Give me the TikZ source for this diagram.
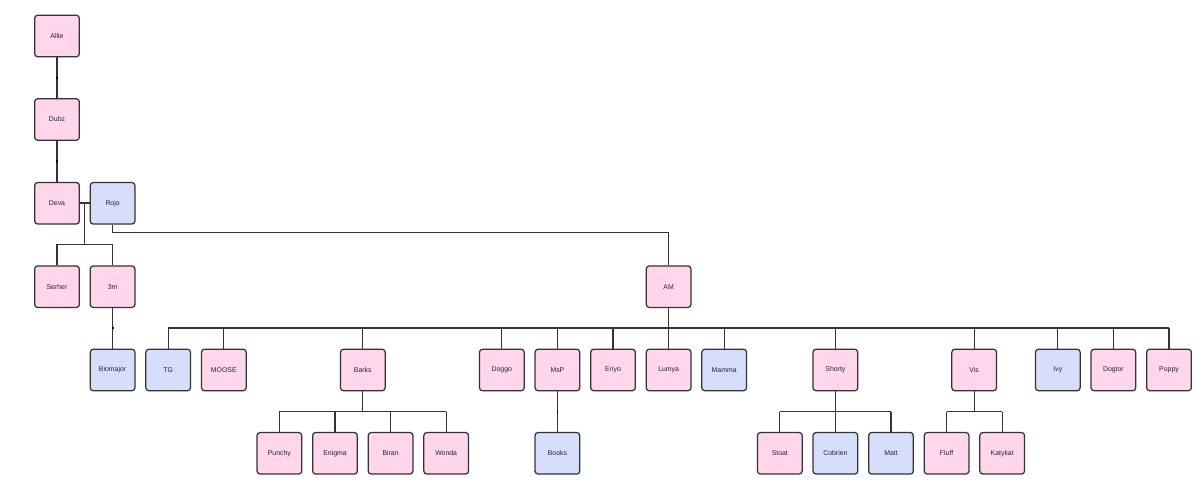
\documentclass[tikz,border=0pt]{standalone}
\usepackage{fontspec}
\setmainfont{Liberation Sans}
\usetikzlibrary{calc}
\definecolor{pinkf}{HTML}{FFD6EC}
\definecolor{bluef}{HTML}{D7DEFC}
\definecolor{edgec}{HTML}{333333}
\definecolor{txtc}{HTML}{22223A}
\tikzset{
  person/.style={draw=edgec, line width=1.25pt, rounded corners=3pt, minimum width=44.7pt, minimum height=41.5pt, inner sep=0pt, font=\fontsize{6.9}{8}\selectfont, text=txtc},
  pk/.style={person, fill=pinkf},
  bl/.style={person, fill=bluef},
  conn/.style={draw=edgec, line width=1.2pt},
  tick/.style={fill=black, minimum size=1.8pt, inner sep=0pt},
}
\begin{document}
\begin{tikzpicture}[x=1pt,y=-1pt]
\useasboundingbox (0,0) rectangle (1200,502);
% rows
\def\ra{36}\def\rb{119.5}\def\rc{203.3}\def\rd{286.7}\def\re{370}\def\rf{453.3}
\node[pk] (Allie) at (57,\ra) {Allie};
\node[pk] (Dubz) at (57,\rb) {Dubz};
\node[pk] (Deva) at (57,\rc) {Deva};
\node[bl] (Rojo) at (112.6,\rc) {Rojo};
\node[pk] (Serher) at (57,\rd) {Serher};
\node[pk] (3m) at (112.6,\rd) {3m};
\node[pk] (AM) at (668.6,\rd) {AM};
\node[bl] (Biomajor) at (112.6,\re) {Biomajor};
\node[bl] (TG) at (168.2,\re) {TG};
\node[pk] (MOOSE) at (223.8,\re) {MOOSE};
\node[pk] (Barks) at (362.8,\re) {Barks};
\node[pk] (Doggo) at (501.8,\re) {Doggo};
\node[pk] (MsP) at (557.4,\re) {MsP};
\node[pk] (Eriyo) at (613,\re) {Eriyo};
\node[pk] (Lumya) at (668.6,\re) {Lumya};
\node[bl] (Mamma) at (724.2,\re) {Mamma};
\node[pk] (Shorty) at (835.4,\re) {Shorty};
\node[pk] (Vis) at (974.2,\re) {Vis};
\node[bl] (Ivy) at (1057.8,\re) {Ivy};
\node[pk] (Dogtor) at (1113.4,\re) {Dogtor};
\node[pk] (Poppy) at (1169,\re) {Poppy};
\node[pk] (Punchy) at (279.4,\rf) {Punchy};
\node[pk] (Enigma) at (335,\rf) {Enigma};
\node[pk] (Biran) at (390.6,\rf) {Biran};
\node[pk] (Wonda) at (446.2,\rf) {Wonda};
\node[bl] (Books) at (557.4,\rf) {Books};
\node[pk] (Stoat) at (779.8,\rf) {Stoat};
\node[bl] (Cobrien) at (835.4,\rf) {Cobrien};
\node[bl] (Matt) at (891,\rf) {Matt};
\node[pk] (Fluff) at (946.6,\rf) {Fluff};
\node[pk] (Katykat) at (1002.2,\rf) {Katykat};
% bar levels
\coordinate (b4) at (0,244.5);
\coordinate (b5) at (0,328);
\coordinate (b6) at (0,411.7);
% single-child links
\foreach \p/\c in {Allie/Dubz, Dubz/Deva, 3m/Biomajor, MsP/Books}{
  \draw[conn] (\p.south) -- (\c.north);
  \node[tick] at ($(\p.south)!0.5!(\c.north)$) {};
}
% Deva - Rojo couple
\draw[draw=edgec, line width=2pt] (Deva.east) -- (Rojo.west);
\coordinate (dr) at ($(Deva.east)!0.5!(Rojo.west)$);
\draw[conn] (dr) -- (dr |- b4);
\draw[conn] (Serher.north) -- (Serher.north |- b4) -- (3m.north |- b4) -- (3m.north);
% Rojo -> AM
\draw[conn] (Rojo.south) -- ++(0,8) -| (AM.north);
% AM children
\draw[conn] (AM.south) -- (AM.south |- b5);
\draw[conn] (TG.north |- b5) -- (Poppy.north |- b5);
\foreach \c in {TG,MOOSE,Barks,Doggo,MsP,Eriyo,Lumya,Mamma,Shorty,Vis,Ivy,Dogtor,Poppy}{
  \draw[conn] (\c.north |- b5) -- (\c.north);
}
% Barks children
\draw[conn] (Barks.south) -- (Barks.south |- b6);
\draw[conn] (Punchy.north |- b6) -- (Wonda.north |- b6);
\foreach \c in {Punchy,Enigma,Biran,Wonda}{\draw[conn] (\c.north |- b6) -- (\c.north);}
% Shorty children
\draw[conn] (Shorty.south) -- (Shorty.south |- b6);
\draw[conn] (Stoat.north |- b6) -- (Matt.north |- b6);
\foreach \c in {Stoat,Cobrien,Matt}{\draw[conn] (\c.north |- b6) -- (\c.north);}
% Vis children
\draw[conn] (Vis.south) -- (Vis.south |- b6);
\draw[conn] (Fluff.north |- b6) -- (Katykat.north |- b6);
\foreach \c in {Fluff,Katykat}{\draw[conn] (\c.north |- b6) -- (\c.north);}
\end{tikzpicture}
\end{document}
